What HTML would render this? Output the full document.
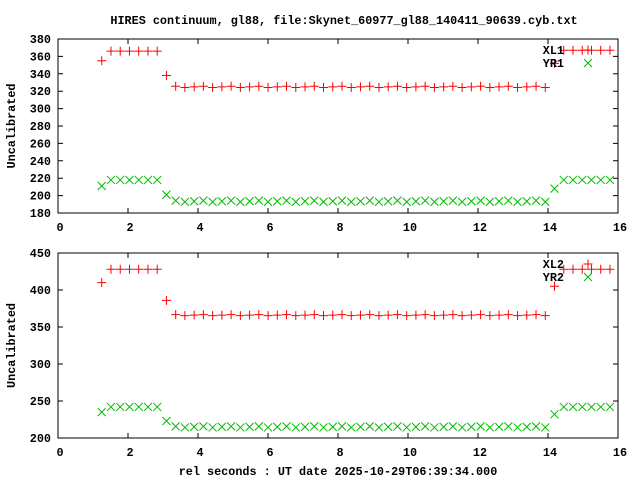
<!DOCTYPE html>
<html><head><meta charset="utf-8"><style>
html,body{margin:0;padding:0;background:#fff}
svg text{font-family:"Liberation Mono","DejaVu Sans Mono",monospace;font-weight:bold;font-size:11.8px;fill:#000}
</style></head><body>
<svg id="s" width="640" height="480" xmlns="http://www.w3.org/2000/svg"></svg>
<script>
const s=document.getElementById('s');let h='';
h+='<text x="344" y="24" text-anchor="middle">HIRES continuum, gl88, file:Skynet_60977_gl88_140411_90639.cyb.txt</text>';
h+='<text x="338" y="475" text-anchor="middle">rel seconds : UT date 2025-10-29T06:39:34.000</text>';
const L=58,R=618;
function X(v){return L+(R-L)*v/16;}
function plus(x,y,c){return `<path d="M${x-4.5} ${y}h9M${x} ${y-4.5}v9" stroke="${c}" stroke-width="1" fill="none"/>`;}
function cross(x,y,c){return `<path d="M${x-4} ${y-4}l8 8M${x-4} ${y+4}l8 -8" stroke="${c}" stroke-width="1" fill="none"/>`;}
function panel(top,bot,ymin,ymax,ystep,red,green,lab){
  const Y=v=>bot-(bot-top)*(v-ymin)/(ymax-ymin);
  h+=`<rect x="${L}" y="${top}" width="${R-L}" height="${bot-top}" fill="none" stroke="#000"/>`;
  for(let v=ymin;v<=ymax;v+=ystep){const y=Y(v);
    h+=`<path d="M${L} ${y}h5M${R} ${y}h-5" stroke="#000"/>`;
    h+=`<text x="51" y="${y+4}" text-anchor="end">${v}</text>`;}
  for(let v=0;v<=16;v+=2){const x=X(v);
    h+=`<path d="M${x} ${bot}v-5M${x} ${top}v5" stroke="#000"/>`;
    h+=`<text x="${x+2}" y="${bot+18}" text-anchor="middle">${v}</text>`;}
  h+=`<text transform="translate(15 ${(top+bot)/2}) rotate(-90)" text-anchor="middle">Uncalibrated</text>`;
  for(let i=0;i<56;i++){const x=X(1.25+0.264*i);
    h+=plus(x,Y(red(i)),'#f00');h+=cross(x,Y(green(i)),'#0b0');}
  h+=`<text x="564" y="${top+15}" text-anchor="end">XL${lab}</text>`;
  h+=`<text x="564" y="${top+28}" text-anchor="end">YR${lab}</text>`;
  h+=plus(588,top+11,'#f00');h+=cross(588,top+24,'#0b0');
}
const j=i=>((i*7)%3-1)*0.7;
function seg(a,b,c,d,e,f){return i=>i==0?a:i<7?b:i==7?c:i<49?d+j(i):i==49?e:f;}
panel(39,213,180,380,20,seg(355,366,338,325,352,367),seg(211,218,201,193.5,208,218),1);
panel(253,438,200,450,50,seg(410,428,386,366,405,428),seg(235,242,223,215,232,242),2);
s.innerHTML=h;
</script>
</body></html>
